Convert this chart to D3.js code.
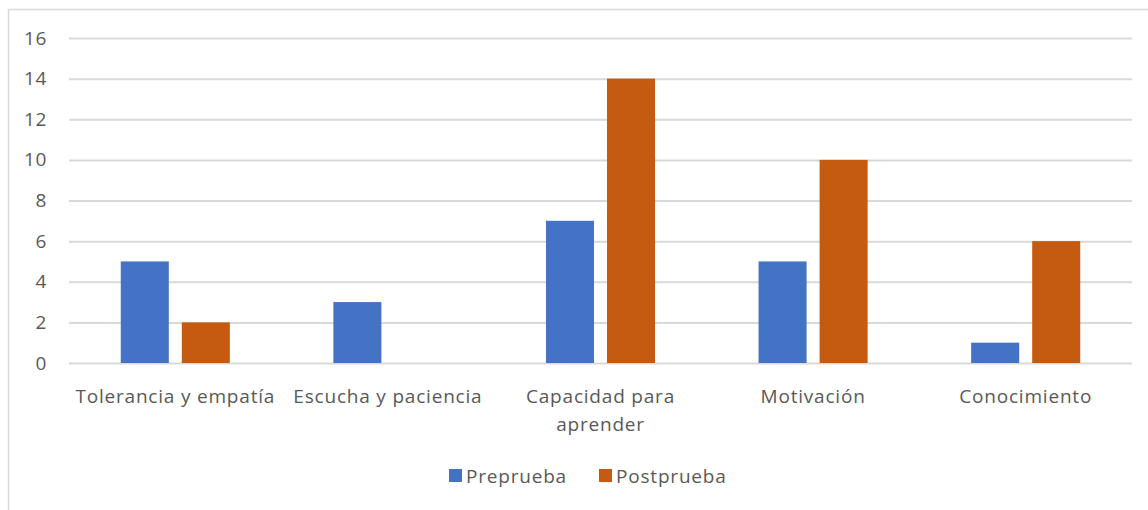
<!DOCTYPE html>
<html>
<head>
<meta charset="utf-8">
<script src="https://cdn.jsdelivr.net/npm/d3@7"></script>
<style>
  body { margin: 0; background: #fff; }
  text { font-family: "Open Sans", "Liberation Sans", sans-serif; fill: #595959; }
</style>
</head>
<body>
<div id="chart"></div>
<script>
//********************* DATA ************************************

var categories = ["Tolerancia y empatía", "Escucha y paciencia", "Capacidad para aprender", "Motivación", "Conocimiento"];
var series = ["Preprueba", "Postprueba"];
var preprueba = [5, 3, 7, 5, 1];
var postprueba = [2, 0, 14, 10, 6];
var yTicks = [0, 2, 4, 6, 8, 10, 12, 14, 16];
var colors = ["#4472C4", "#C55A11"];

//********************* DIMENSIONS ************************************

var W = 1148, H = 510;
var plot = {left: 69, right: 1132, top: 38, bottom: 363};

var svg = d3.select("#chart").append("svg")
    .attr("width", W)
    .attr("height", H);

// chart frame
svg.append("rect")
    .attr("x", 8.5).attr("y", 9.5)
    .attr("width", W + 10).attr("height", H + 10)
    .attr("fill", "none")
    .attr("stroke", "#d9d9d9")
    .attr("stroke-width", 1.5);

var x0 = d3.scaleBand()
    .domain(categories)
    .range([plot.left, plot.right])
    .paddingInner(0.487)
    .paddingOuter(0.2435);

var x1 = d3.scaleBand()
    .domain(series)
    .range([0, x0.bandwidth()])
    .paddingInner(0.213);

var y = d3.scaleLinear().domain([0, 16]).range([plot.bottom, plot.top]);

//********************* GRID + AXES ************************************

var yAxis = svg.append("g")
    .attr("transform", "translate(" + plot.left + ",0)")
    .call(d3.axisLeft(y).tickValues(yTicks).tickSize(-(plot.right - plot.left)).tickPadding(22));

yAxis.select(".domain").remove();
yAxis.selectAll(".tick line").attr("stroke", "#d9d9d9").attr("stroke-width", 2);
yAxis.selectAll(".tick text")
    .attr("font-size", 19)
    .attr("letter-spacing", 0.6)
    .style("font-family", "'Open Sans', sans-serif")
    .attr("fill", "#595959");

//********************* BARS ************************************

var rows = categories.map(function(c, i) {
  return {cat: c, values: [preprueba[i], postprueba[i]]};
});

var groups = svg.append("g").selectAll("g")
    .data(rows)
  .enter().append("g")
    .attr("transform", function(d) { return "translate(" + x0(d.cat) + ",0)"; });

groups.selectAll("rect")
    .data(function(d) { return d.values.map(function(v, j) { return {s: series[j], v: v, j: j}; }); })
  .enter().append("rect")
    .attr("x", function(d) { return x1(d.s); })
    .attr("y", function(d) { return y(d.v); })
    .attr("width", x1.bandwidth())
    .attr("height", function(d) { return y(0) - y(d.v); })
    .attr("fill", function(d) { return colors[d.j]; });

//********************* CATEGORY LABELS ************************************

var labelLines = {"Capacidad para aprender": ["Capacidad para", "aprender"]};

categories.forEach(function(c) {
  var lines = labelLines[c] || [c];
  var t = svg.append("text")
      .attr("x", x0(c) + x0.bandwidth() / 2)
      .attr("y", 403)
      .attr("text-anchor", "middle")
      .attr("font-size", 19)
      .attr("letter-spacing", 0.8);
  lines.forEach(function(l, i) {
    t.append("tspan")
        .attr("x", x0(c) + x0.bandwidth() / 2)
        .attr("dy", i === 0 ? 0 : 28)
        .text(l);
  });
});

//********************* LEGEND ************************************

var legendX = [449, 599];
var legend = svg.append("g");
series.forEach(function(s, i) {
  legend.append("rect")
      .attr("x", legendX[i]).attr("y", 469)
      .attr("width", 13).attr("height", 13)
      .attr("fill", colors[i]);
  legend.append("text")
      .attr("x", legendX[i] + 17).attr("y", 483)
      .attr("font-size", 19)
      .attr("letter-spacing", 0.8)
      .text(s);
});
</script>
</body>
</html>
